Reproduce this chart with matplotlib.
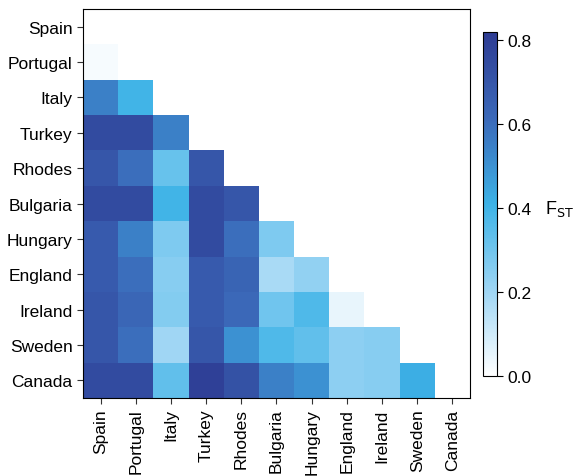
import numpy as np
import matplotlib
matplotlib.use("Agg")
import matplotlib.pyplot as plt
from matplotlib.colors import LinearSegmentedColormap

pops = ["Spain", "Portugal", "Italy", "Turkey", "Rhodes", "Bulgaria",
        "Hungary", "England", "Ireland", "Sweden", "Canada"]

# lower triangle, row by row (row i has i values)
fst_rows = [
    [],
    [0.02],
    [0.55, 0.40],
    [0.75, 0.75, 0.55],
    [0.70, 0.60, 0.32, 0.70],
    [0.75, 0.75, 0.40, 0.75, 0.70],
    [0.68, 0.55, 0.27, 0.75, 0.60, 0.27],
    [0.68, 0.60, 0.25, 0.68, 0.64, 0.18, 0.23],
    [0.70, 0.63, 0.26, 0.68, 0.62, 0.30, 0.37, 0.05],
    [0.70, 0.60, 0.20, 0.70, 0.50, 0.37, 0.33, 0.24, 0.25],
    [0.75, 0.75, 0.33, 0.80, 0.72, 0.55, 0.50, 0.24, 0.25, 0.42],
]

n = len(pops)
mat = np.full((n, n), np.nan)
for i, row in enumerate(fst_rows):
    for j, v in enumerate(row):
        mat[i, j] = v
mat = np.ma.masked_invalid(mat)

cmap = LinearSegmentedColormap.from_list(
    "fst", [(0.0, "#ffffff"), (0.25, "#9dd5f4"), (0.5, "#3cb2e6"),
            (0.75, "#3b69b9"), (1.0, "#2e3c93")])

plt.rcParams['font.family'] = ['Liberation Sans', 'DejaVu Sans']

fig = plt.figure(figsize=(5.74, 4.77), dpi=100)
ax = fig.add_axes([0.1446, 0.1635, 0.6742, 0.8155])
mesh = ax.pcolormesh(np.arange(n + 1), np.arange(n + 1), mat, cmap=cmap,
                     vmin=0, vmax=0.82)
ax.set_xlim(0, n)
ax.set_ylim(n, 0)
ax.set_xticks(np.arange(n) + 0.5)
ax.set_yticks(np.arange(n) + 0.5)
ax.set_xticklabels(pops, rotation=90, fontsize=12.5)
ax.set_yticklabels(pops, fontsize=12.5)
ax.tick_params(length=4.5, width=0.8, pad=3, color="#333333")
for s in ax.spines.values():
    s.set_linewidth(0.8)

cax = fig.add_axes([0.8415, 0.2096, 0.0244, 0.7212])
cb = fig.colorbar(mesh, cax=cax, ticks=[0, 0.2, 0.4, 0.6, 0.8])
cb.ax.set_yticklabels(["0.0", "0.2", "0.4", "0.6", "0.8"], fontsize=12.5)
cb.ax.tick_params(length=4.5, width=0.8, pad=3)
cb.outline.set_linewidth(0.8)
cb.ax.text(4.43, 0.4, "F$_{\\mathrm{ST}}$", fontsize=13, va="center",
           ha="left", transform=cb.ax.get_yaxis_transform())

fig.savefig("out.png", dpi=100)
